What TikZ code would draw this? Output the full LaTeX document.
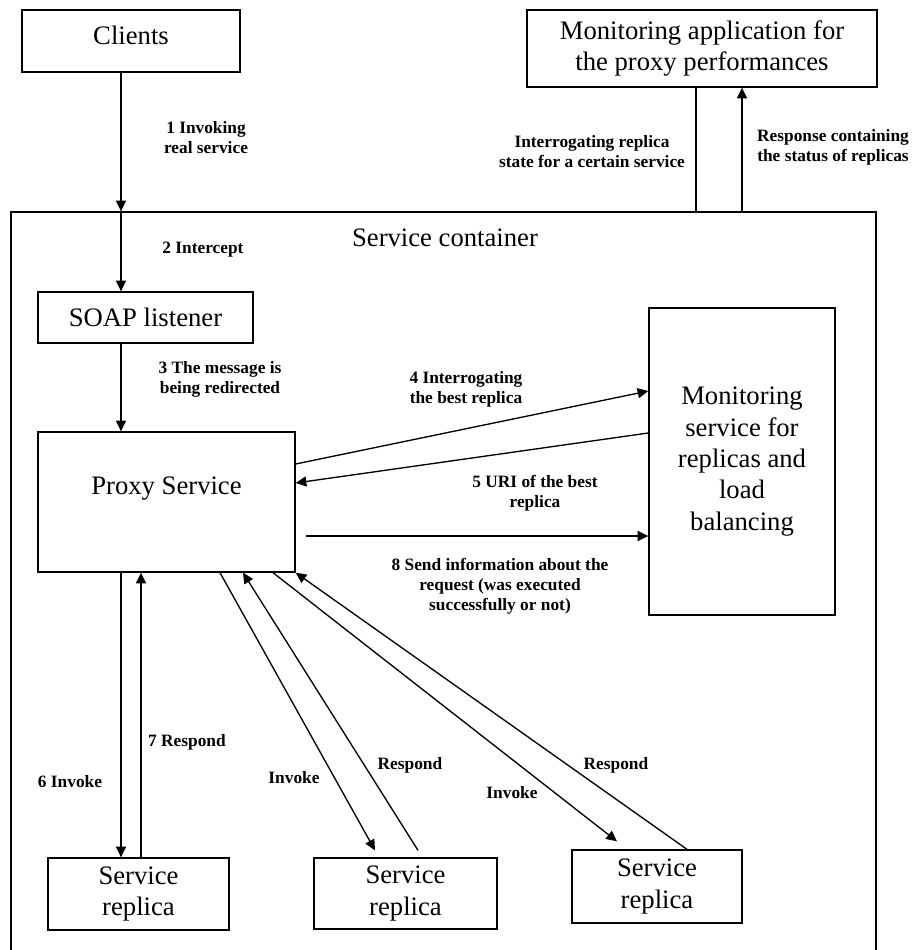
\documentclass[tikz,border=0pt]{standalone}
\usepackage{fontspec}
\setmainfont{Liberation Serif}
\usetikzlibrary{arrows.meta}

\begin{document}
\begin{tikzpicture}[x=0.75pt,y=-0.75pt,line width=1pt,
  box/.style={draw,inner sep=0pt,align=center,font=\fontsize{20}{23.5}\selectfont},
  tag/.style={inner sep=0pt,align=center,font=\fontsize{13}{15}\selectfont\bfseries},
  flow/.style={-{Triangle[length=8pt,width=7.5pt]}}]
\useasboundingbox (0,0) rectangle (911,950);
\clip (0,0) rectangle (911,950);
% boxes
\node[draw,inner sep=0pt,minimum width=648.75pt,minimum height=564.75pt] (container) at (443.5,588.5) {};
\node[box,draw=none] (container-title) at (445,238) {Service container};
\node[box,minimum width=163.5pt,minimum height=46.5pt,text depth=9pt] (clients) at (131,41) {Clients};
\node[box,minimum width=262.5pt,minimum height=57.75pt] (app) at (702,48.5) {Monitoring application for\\the proxy performances};
\node[box,minimum width=161.25pt,minimum height=38.25pt] (soap) at (145.5,317.5) {SOAP listener};
\node[box,minimum width=192.75pt,minimum height=105pt,text depth=25pt] (proxy) at (166.5,502) {Proxy Service};
\node[box,minimum width=139.5pt,minimum height=230.25pt] (monitor) at (742,461.5) {Monitoring\\service for\\replicas and\\load\\balancing};
\node[box,minimum width=135.75pt,minimum height=54pt] (replica-1) at (138.5,894) {Service\\replica};
\node[box,minimum width=137.25pt,minimum height=53.25pt] (replica-2) at (405.5,893.5) {Service\\replica};
\node[box,minimum width=127.5pt,minimum height=54.75pt] (replica-3) at (657,886.5) {Service\\replica};
% columns of the vertical connectors
\coordinate (call-x) at (121,0);
\coordinate (back-x) at (141,0);
\coordinate (ask-x) at (696,0);
\coordinate (answer-x) at (742,0);
% connectors
\draw[flow] (clients.south -| call-x) -- (container.north -| call-x);
\draw[flow] (container.north -| call-x) -- (soap.north -| call-x);
\draw[flow] (soap.south -| call-x) -- (proxy.north -| call-x);
\draw (container.north -| ask-x) -- (app.south -| ask-x);
\draw[flow] (container.north -| answer-x) -- (app.south -| answer-x);
\draw[flow] ([yshift=28.5pt]proxy.east) -- ([yshift=52.875pt]monitor.west);
\draw[flow] ([yshift=21.375pt]monitor.west) -- ([yshift=14.25pt]proxy.east);
\draw[flow] ([shift={(7.5pt,-25.5pt)}]proxy.east) coordinate (report) -- (monitor.west |- report);
\draw[flow] (proxy.south -| call-x) -- (replica-1.north -| call-x);
\draw[flow] (replica-1.north -| back-x) -- (proxy.south -| back-x);
\draw[flow] ([xshift=40.125pt]proxy.south) -- ([shift={(-22.875pt,5.25pt)}]replica-2.north);
\draw[flow] ([shift={(9.375pt,5.25pt)}]replica-2.north) -- ([xshift=57.375pt]proxy.south);
\draw[flow] ([xshift=79.875pt]proxy.south) -- ([shift={(-30pt,6pt)}]replica-3.north);
\draw[flow] ([xshift=22.5pt]replica-3.north) -- (proxy.south east);
% labels
\node[tag] (tag-1) at (206,138) {1 Invoking\\real service};
\node[tag] (tag-2) at (203,250) {2 Intercept};
\node[tag] (tag-3) at (220,379) {3 The message is\\being redirected};
\node[tag] (tag-ask) at (592,152) {Interrogating replica\\state for a certain service};
\node[tag] (tag-answer) at (833,147) {Response containing\\the status of replicas};
\node[tag] (tag-4) at (466,389) {4 Interrogating\\the best replica};
\node[tag] (tag-5) at (535,493) {5 URI of the best\\replica};
\node[tag] (tag-8) at (500,586) {8 Send information about the\\request (was executed\\successfully or not)};
\node[tag] (tag-6) at (70,782) {6 Invoke};
\node[tag] (tag-7) at (187,742) {7 Respond};
\node[tag] (tag-invoke-2) at (294,778) {Invoke};
\node[tag] (tag-respond-2) at (410,765) {Respond};
\node[tag] (tag-invoke-3) at (512,793) {Invoke};
\node[tag] (tag-respond-3) at (616,765) {Respond};
\end{tikzpicture}
\end{document}
